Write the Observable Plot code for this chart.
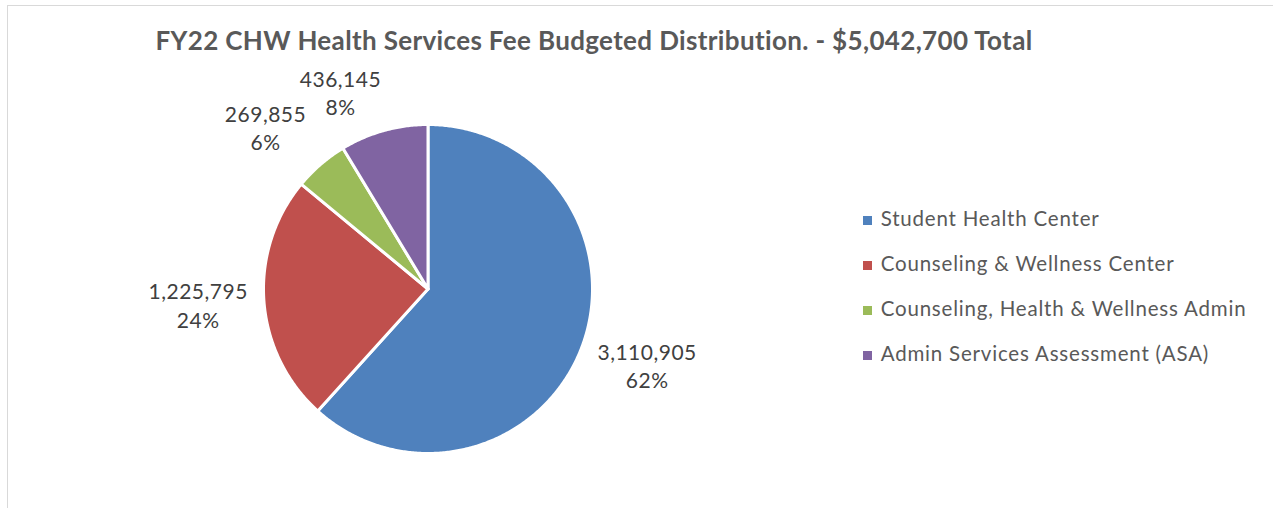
<!DOCTYPE html>
<html>
<head>
<meta charset="utf-8">
<script src="https://cdn.jsdelivr.net/npm/d3@7"></script>
<script src="https://cdn.jsdelivr.net/npm/@observablehq/plot@0.6"></script>
<style>
  html, body { margin: 0; padding: 0; background: #fff; }
  #wrap { position: relative; width: 1273px; height: 508px; overflow: hidden; font-family: Lato, "Open Sans", sans-serif; }
  #frame { position: absolute; left: 7px; top: 5px; right: -10px; bottom: -10px; border-top: 1.5px solid #d9d9d9; border-left: 1.5px solid #d9d9d9; }
  #title { position: absolute; left: 0; width: 1188px; top: 25px; text-align: center; font-weight: 700; font-size: 26px; letter-spacing: 0.35px; line-height: 1.2; color: #595959; white-space: nowrap; }
  #chart { position: absolute; left: 0; top: 0; }
  #legend { position: absolute; left: 863px; top: 0; }
  .row { position: absolute; left: 0; white-space: nowrap; font-size: 20.5px; letter-spacing: 0.8px; line-height: 1.2; color: #595959; }
  .sw { position: absolute; left: 0; width: 9px; height: 9px; }
  .lab { position: absolute; left: 17.7px; top: 0; }
</style>
</head>
<body>
<div id="wrap">
  <div id="frame"></div>
  <div id="chart"></div>
  <div id="title"></div>
  <div id="legend"></div>
</div>
<script>
// ---- data ----
const titleText = "FY22 CHW Health Services Fee Budgeted Distribution. - $5,042,700 Total";
const categories = ["Student Health Center", "Counseling & Wellness Center", "Counseling, Health & Wellness Admin", "Admin Services Assessment (ASA)"];
const amounts = [3110905, 1225795, 269855, 436145];
const percentLabels = [62, 24, 6, 8];
const colors = ["#4F81BD", "#C0504D", "#9BBB59", "#8064A2"];

// ---- layout ----
const W = 1273, H = 508;
const cx = 427.5, cy = 288.5, R = 164.5;
const labelAngleShift = [-1.9, 0.35, -4.3, -8.4]; // degrees, best-fit style nudges
const labelRadius = [1.41, 1.40, 1.395, 1.31];    // in pie radii

const total = d3.sum(amounts);
let acc = 0;
const slices = categories.map((name, i) => {
  const a0 = acc / total * 2 * Math.PI;
  acc += amounts[i];
  const a1 = acc / total * 2 * Math.PI;
  return {name, value: amounts[i], pct: percentLabels[i], a0, a1, i};
});

// polygon outline for each slice (center -> arc -> center)
const outline = [];
for (const s of slices) {
  outline.push({name: s.name, x: 0, y: 0});
  const n = Math.max(2, Math.ceil((s.a1 - s.a0) / (Math.PI / 360)));
  for (let k = 0; k <= n; k++) {
    const a = s.a0 + (s.a1 - s.a0) * k / n;
    outline.push({name: s.name, x: Math.sin(a), y: Math.cos(a)});
  }
  outline.push({name: s.name, x: 0, y: 0});
}

const fmt = d3.format(",");
const labels = slices.map(s => {
  const a = (s.a0 + s.a1) / 2 + labelAngleShift[s.i] * Math.PI / 180;
  const r = labelRadius[s.i];
  return {x: r * Math.sin(a), y: r * Math.cos(a), text: fmt(s.value) + "\n" + s.pct + "%"};
});

const plot = Plot.plot({
  width: W,
  height: H,
  margin: 0,
  x: {domain: [-1, 1], range: [cx - R, cx + R], axis: null},
  y: {domain: [-1, 1], range: [cy + R, cy - R], axis: null},
  color: {domain: categories, range: colors},
  style: {background: "transparent", fontFamily: "Lato, 'Open Sans', sans-serif", letterSpacing: "0.5px"},
  marks: [
    Plot.line(outline, {x: "x", y: "y", z: "name", fill: "name", stroke: "white", strokeWidth: 3, strokeLinejoin: "round", curve: "linear"}),
    Plot.text(labels, {x: "x", y: "y", text: "text", fontSize: 21, lineHeight: 1.357, lineAnchor: "middle", textAnchor: "middle", fill: "#404040"})
  ]
});
document.getElementById("chart").appendChild(plot);

document.getElementById("title").textContent = titleText;

const legend = document.getElementById("legend");
const baselines0 = 226.7, rowStep = 45;
categories.forEach((c, i) => {
  const fs = 20.5;
  const top = baselines0 + i * rowStep - 0.987 * fs;
  const row = document.createElement("div");
  row.className = "row";
  row.style.top = top + "px";
  const sw = document.createElement("div");
  sw.className = "sw";
  sw.style.background = colors[i];
  sw.style.top = (0.987 * fs - 10.5) + "px";
  const lab = document.createElement("div");
  lab.className = "lab";
  lab.textContent = c;
  row.appendChild(sw);
  row.appendChild(lab);
  legend.appendChild(row);
});
</script>
</body>
</html>
